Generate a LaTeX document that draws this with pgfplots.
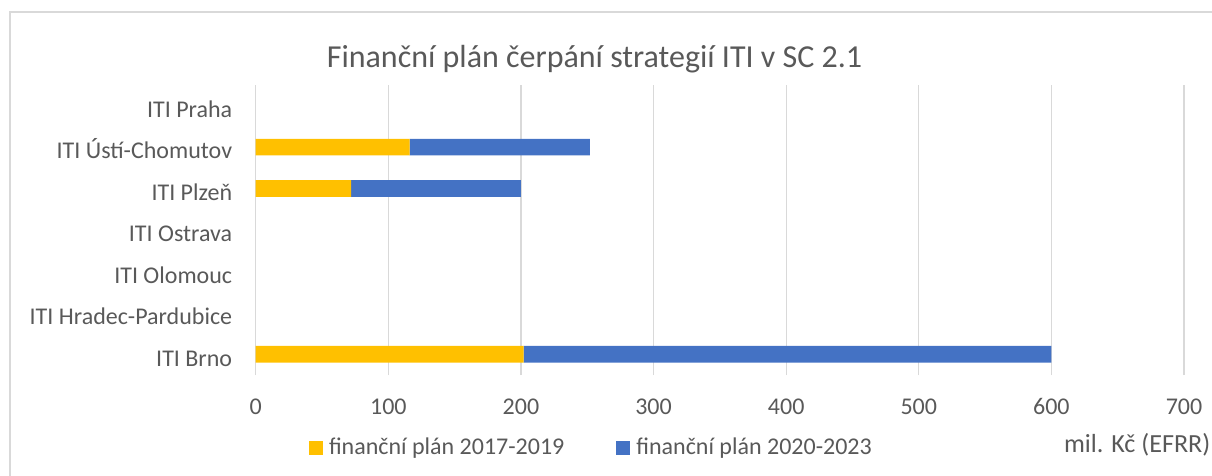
\documentclass[border=0pt]{standalone}
\usepackage{fontspec}
\setmainfont{Carlito}
\usepackage{pgfplots}
\pgfplotsset{compat=1.18}
\definecolor{cyellow}{HTML}{FFC000}
\definecolor{cblue}{HTML}{4472C4}
\definecolor{tgray}{HTML}{595959}
\definecolor{ggray}{HTML}{D9D9D9}
\begin{document}
\begin{tikzpicture}
\clip (0,0) rectangle (909pt,356.25pt);
\useasboundingbox (0,0) rectangle (909pt,356.25pt);
\draw[ggray, line width=1.1pt] (7.5pt,-5pt) -- (7.5pt,347.25pt) -- (920pt,347.25pt);
\node[anchor=base, text=tgray, font=\fontsize{24}{28}\selectfont, inner sep=0pt] at (445.9pt,305.25pt) {Finanční plán čerpání strategií ITI v SC 2.1};
\node[anchor=base east, text=tgray, font=\fontsize{19.6}{23}\selectfont, inner sep=0pt] at (908pt,16.7pt) {mil. Kč (EFRR)};
\begin{axis}[
  at={(191.8pt,75pt)}, anchor=south west,
  width=696.2pt, height=217.5pt, scale only axis,
  xbar stacked, bar width=12.5pt,
  xmin=0, xmax=700, ymin=-0.5, ymax=6.5,
  xtick={0,100,...,700},
  ytick={0,...,6},
  yticklabels={ITI Brno,ITI Hradec-Pardubice,ITI Olomouc,ITI Ostrava,ITI Plzeň,ITI Ústí-Chomutov,ITI Praha},
  xmajorgrids, grid style={draw=ggray, line width=0.9pt},
  axis line style={draw=none},
  major tick length=0pt,
  /pgf/number format/assume math mode=true,
  tick label style={text=tgray, font=\fontsize{18}{22}\selectfont, inner sep=0pt},
  xticklabel style={anchor=base, yshift=-29.6pt},
  yticklabel style={anchor=base east, xshift=-17.5pt, yshift=-8.8pt},
  legend style={draw=none, at={(0.0571,-0.250)}, anchor=west, legend columns=2,
    inner sep=0pt, font=\fontsize{18}{22}\selectfont,
    nodes={inner sep=0pt, text=tgray},
    /tikz/every odd column/.append style={column sep=4.5pt},
    /tikz/every even column/.append style={column sep=39pt}},
  legend image code/.code={\fill[#1] (0pt,-5.25pt) rectangle (10.5pt,5.25pt);},
]
\addplot[fill=cyellow, draw=none] coordinates {(202,0) (0,1) (0,2) (0,3) (72,4) (116,5) (0,6)};
\addplot[fill=cblue, draw=none] coordinates {(398,0) (0,1) (0,2) (0,3) (128,4) (136,5) (0,6)};
\legend{finanční plán 2017-2019, finanční plán 2020-2023}
\end{axis}
\end{tikzpicture}
\end{document}
